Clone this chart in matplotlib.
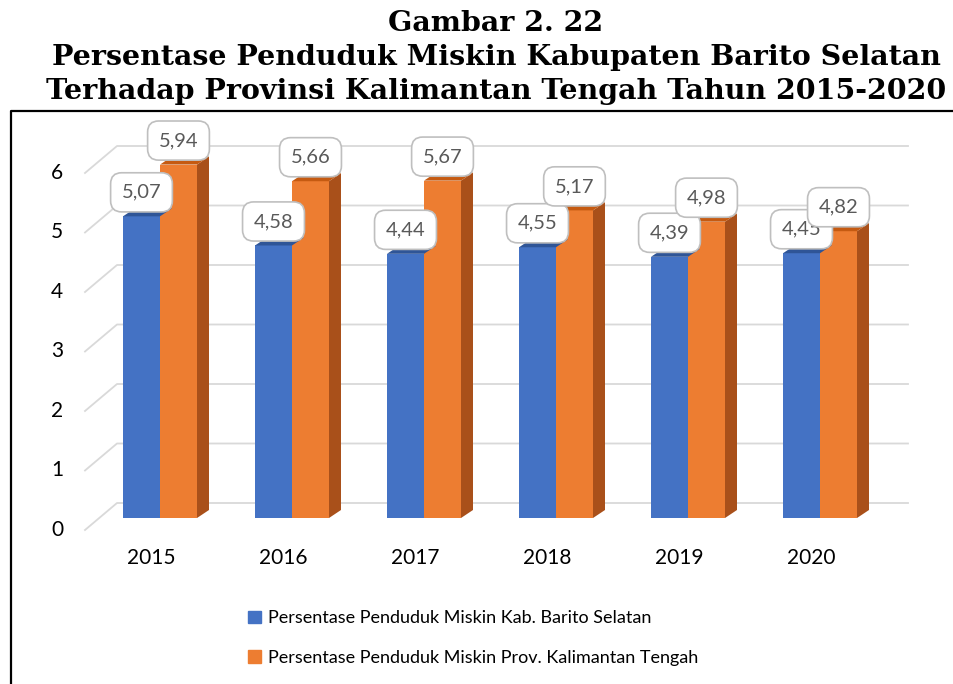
import matplotlib
matplotlib.use('Agg')
import matplotlib.pyplot as plt
from matplotlib.patches import Polygon, Patch
import numpy as np

# data
years = ['2015', '2016', '2017', '2018', '2019', '2020']
kab = [5.07, 4.58, 4.44, 4.55, 4.39, 4.45]
prov = [5.94, 5.66, 5.67, 5.17, 4.98, 4.82]
yticks = [0, 1, 2, 3, 4, 5, 6]
labels = ['Persentase Penduduk Miskin Kab. Barito Selatan',
          'Persentase Penduduk Miskin Prov. Kalimantan Tengah']
titles = ['Gambar 2. 22',
          'Persentase Penduduk Miskin Kabupaten Barito Selatan',
          'Terhadap Provinsi Kalimantan Tengah Tahun 2015-2020']

# warna
c_blue, c_blue_top = '#4472C4', '#2F5597'
c_or, c_or_top, c_or_side = '#ED7D31', '#C55A11', '#A9501A'

W, H = 954, 684
px_x, px_y = 132.0, 59.5   # piksel per satuan
x0_px, y0_px = 160, 518    # posisi kategori 0 / nilai 0


def fx(px):
    return (px - x0_px) / px_x


def fy(py):
    return (y0_px - py) / px_y


fig = plt.figure(figsize=(W / 100, H / 100), dpi=100)
ax = fig.add_axes([0, 0, 1, 1])
ax.set_xlim(fx(0), fx(W))
ax.set_ylim(fy(H), fy(0))
ax.axis('off')

# bingkai chart
ax.plot([fx(11), fx(11), fx(W + 5)], [fy(H + 5), fy(111), fy(111)],
        color='black', lw=1.6, solid_capstyle='butt')

# judul
for i, t in enumerate(titles):
    ax.text(fx(496), fy(31 + 34 * i), t, ha='center', va='baseline',
            fontsize=20.5, fontweight='bold', family='DejaVu Serif')

# grid 3D (depan -> belakang)
front_dy, back_dy = fy(530), fy(503)
xf, xb, xe = fx(85), fx(117), fx(908)
for v in yticks:
    ax.plot([xf, xb, xe], [v + front_dy, v + back_dy, v + back_dy],
            color='#D9D9D9', lw=1.3, zorder=1)
    ax.text(fx(57), v + front_dy, str(v), ha='center', va='center',
            fontsize=15, family='Lato', color='black')

x = np.arange(len(years))
w = 37 / px_x
ddx, ddy = 12 / px_x, 8 / px_y

b1 = ax.bar(x - w / 2, kab, w, color=c_blue, zorder=3)
b2 = ax.bar(x + w / 2, prov, w, color=c_or, zorder=3)

# sisi dan tutup batang
for bars, top_c, side_c in [(b1, c_blue_top, '#2F5597'), (b2, c_or_top, c_or_side)]:
    for r in bars:
        xl, xr, h = r.get_x(), r.get_x() + r.get_width(), r.get_height()
        side = Polygon([(xr, 0), (xr + ddx, ddy), (xr + ddx, h + ddy), (xr, h)],
                       closed=True, fc=side_c, ec='none', zorder=2.5)
        top = Polygon([(xl, h), (xr, h), (xr + ddx, h + ddy), (xl + ddx, h + ddy)],
                      closed=True, fc=top_c, ec='none', zorder=3.1)
        ax.add_patch(side)
        ax.add_patch(top)

# label nilai
for bars, vals in [(b1, kab), (b2, prov)]:
    for r, v in zip(bars, vals):
        ax.text(r.get_x() + r.get_width() / 2, v + 24 / px_y,
                ('%.2f' % v).replace('.', ','), ha='center', va='center',
                fontsize=14.5, family='Lato', color='#595959', zorder=5,
                bbox=dict(boxstyle='round,pad=0.55', fc='white', ec='#BFBFBF', lw=1.2))

# label tahun
for i, yr in enumerate(years):
    ax.text(i - 9 / px_x, fy(558), yr, ha='center', va='center',
            fontsize=15, family='Lato', color='black')

# legenda
handles = [Patch(color=c_blue), Patch(color=c_or)]
ax.legend(handles, labels, loc='upper left', bbox_to_anchor=(232 / W, 1 - 594 / H),
          frameon=False, prop={'family': 'Lato', 'size': 13},
          handlelength=0.7, handleheight=0.7, handletextpad=0.4, labelspacing=1.3)

plt.savefig('out.png', dpi=100)
